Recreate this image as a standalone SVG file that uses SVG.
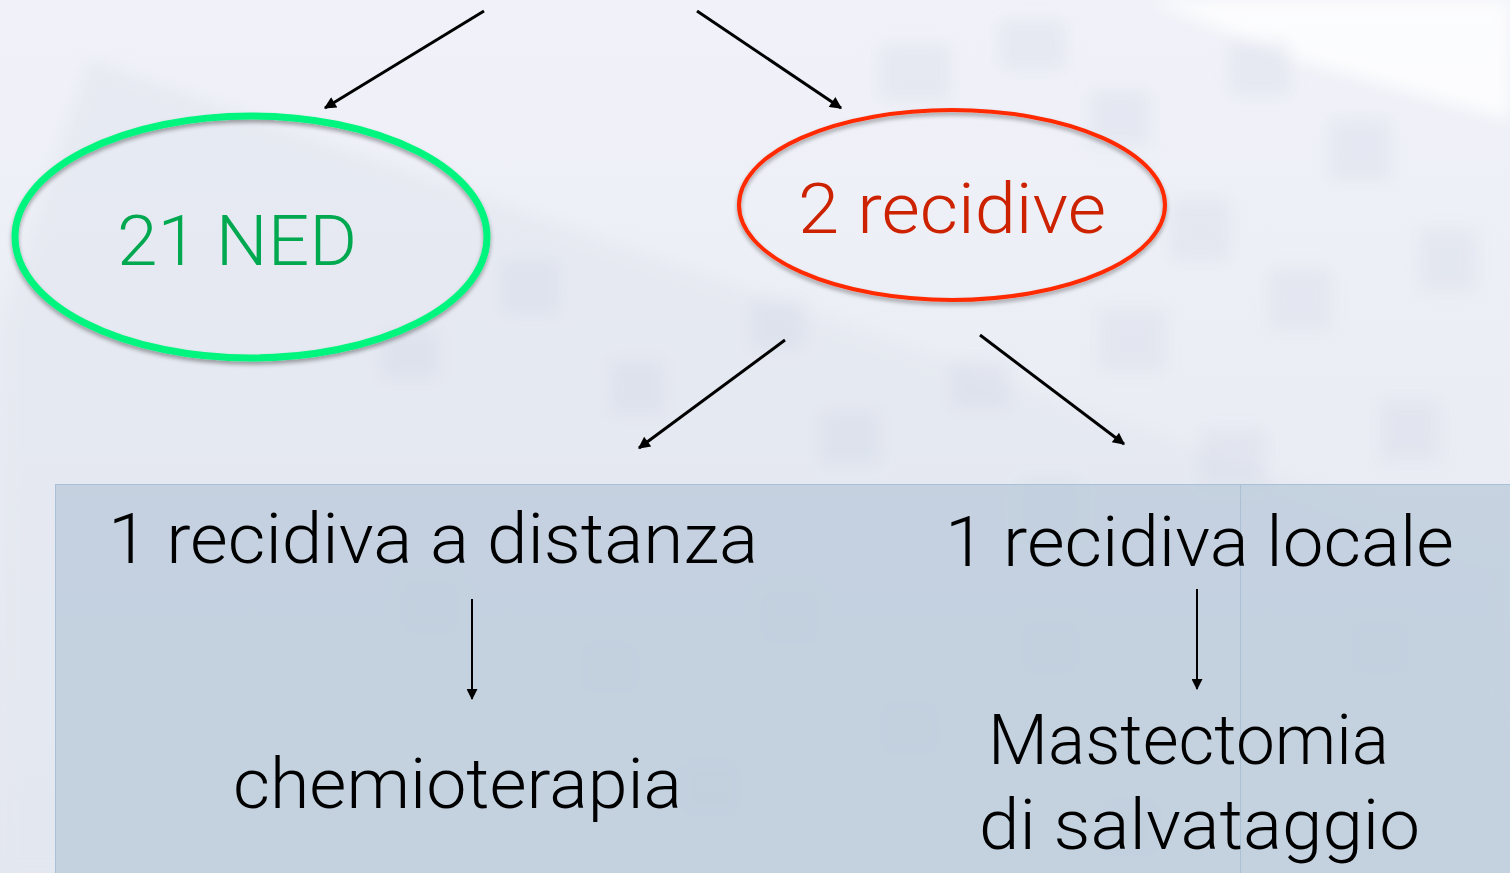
<svg xmlns="http://www.w3.org/2000/svg" width="1510" height="873" viewBox="0 0 1510 873">
<defs>
<style>
.t{font-family:Roboto,"Liberation Sans",Arial,sans-serif;font-weight:300;font-size:70px;}
.blk{fill:#000000;}
.ln{stroke:#000000;fill:none;}
.sq{fill:#c9d0de;opacity:0.25;}
</style>
<marker id="ah" viewBox="0 0 10 10" refX="9" refY="5" markerWidth="5" markerHeight="4" markerUnits="strokeWidth" orient="auto">
<path d="M0,0 L10,5 L0,10 z" fill="#000000"/>
</marker>
<marker id="ah2" viewBox="0 0 10 10" refX="9" refY="5" markerWidth="7" markerHeight="5.5" markerUnits="strokeWidth" orient="auto">
<path d="M0,0 L10,5 L0,10 z" fill="#000000"/>
</marker>
<filter id="blur" x="-20%" y="-20%" width="140%" height="140%"><feGaussianBlur stdDeviation="8"/></filter>
<filter id="sh" x="-10%" y="-10%" width="120%" height="130%"><feDropShadow dx="0" dy="3" stdDeviation="2" flood-color="#000" flood-opacity="0.35"/></filter>
<linearGradient id="bg" x1="0" y1="0" x2="0" y2="1">
<stop offset="0" stop-color="#f1f2f9"/>
<stop offset="1" stop-color="#e4e8f0"/>
</linearGradient>
</defs>
<rect x="0" y="0" width="1510" height="873" fill="url(#bg)"/>
<g id="background" filter="url(#blur)">
<polygon points="90,60 1510,560 1510,873 0,873 0,330" fill="#e3e7ef" opacity="0.7"/>
<polygon points="1150,0 1510,0 1510,120 1300,60" fill="#ffffff" opacity="0.8"/>
<rect class="sq" x="880" y="45" width="70" height="55"/>
<rect class="sq" x="1000" y="20" width="65" height="50"/>
<rect class="sq" x="1090" y="90" width="60" height="55"/>
<rect class="sq" x="1230" y="40" width="60" height="55"/>
<rect class="sq" x="1330" y="120" width="60" height="60"/>
<rect class="sq" x="1170" y="200" width="60" height="60"/>
<rect class="sq" x="1270" y="270" width="60" height="60"/>
<rect class="sq" x="1420" y="230" width="55" height="60"/>
<rect class="sq" x="1100" y="310" width="65" height="60"/>
<rect class="sq" x="1200" y="430" width="65" height="55"/>
<rect class="sq" x="1380" y="400" width="60" height="60"/>
<rect class="sq" x="500" y="260" width="60" height="55"/>
<rect class="sq" x="610" y="360" width="55" height="55"/>
<rect class="sq" x="750" y="300" width="55" height="50"/>
<rect class="sq" x="820" y="410" width="60" height="55"/>
<rect class="sq" x="950" y="360" width="60" height="50"/>
<rect class="sq" x="380" y="330" width="60" height="50"/>
<rect class="sq" x="1020" y="480" width="60" height="55"/>
<rect class="sq" x="400" y="580" width="60" height="55"/>
<rect class="sq" x="580" y="640" width="60" height="55"/>
<rect class="sq" x="760" y="590" width="60" height="55"/>
<rect class="sq" x="880" y="700" width="60" height="55"/>
<rect class="sq" x="680" y="760" width="60" height="55"/>
<rect class="sq" x="1020" y="620" width="60" height="55"/>
<rect class="sq" x="1100" y="800" width="60" height="55"/>
<rect class="sq" x="1350" y="620" width="60" height="55"/>
</g>
<g id="box-bottom">
<rect x="55" y="484" width="1455" height="389" fill="#b9cad9" opacity="0.75"/>
<line x1="55" y1="484.5" x2="1510" y2="484.5" stroke="#a9c0d6" stroke-width="1"/>
<line x1="55.5" y1="484" x2="55.5" y2="873" stroke="#a9c0d6" stroke-width="1"/>
<line x1="1240.5" y1="484" x2="1240.5" y2="873" stroke="#aac0d4" stroke-width="1"/>
</g>
<g id="connectors">
<line class="ln" x1="484" y1="11" x2="325" y2="108" stroke-width="3" marker-end="url(#ah)"/>
<line class="ln" x1="697" y1="11" x2="841" y2="108" stroke-width="3" marker-end="url(#ah)"/>
<line class="ln" x1="785" y1="340" x2="639" y2="448" stroke-width="3" marker-end="url(#ah)"/>
<line class="ln" x1="980" y1="335" x2="1124" y2="444" stroke-width="3" marker-end="url(#ah)"/>
<line class="ln" x1="472" y1="599" x2="472" y2="699" stroke-width="2" marker-end="url(#ah2)"/>
<line class="ln" x1="1197" y1="589" x2="1197" y2="689" stroke-width="2" marker-end="url(#ah2)"/>
</g>
<g id="node-ned">
<ellipse cx="251" cy="237" rx="236" ry="121" fill="none" stroke="#00f57e" stroke-width="7" filter="url(#sh)"/>
<text class="t" x="117" y="265" fill="#00a850" textLength="240" lengthAdjust="spacingAndGlyphs">21 NED</text>
</g>
<g id="node-recidive">
<ellipse cx="952" cy="205" rx="213" ry="95" fill="none" stroke="#ff2a00" stroke-width="4" filter="url(#sh)"/>
<text class="t" x="798" y="233" fill="#cc2200" textLength="308" lengthAdjust="spacingAndGlyphs">2 recidive</text>
</g>
<g id="node-distanza">
<text class="t blk" x="108" y="563" textLength="650" lengthAdjust="spacingAndGlyphs">1 recidiva a distanza</text>
</g>
<g id="node-chemio">
<text class="t blk" x="233" y="808" textLength="449" lengthAdjust="spacingAndGlyphs">chemioterapia</text>
</g>
<g id="node-locale">
<text class="t blk" x="945" y="566" textLength="509" lengthAdjust="spacingAndGlyphs">1 recidiva locale</text>
</g>
<g id="node-mastectomia">
<text class="t blk" x="988" y="764" textLength="401" lengthAdjust="spacingAndGlyphs">Mastectomia</text>
<text class="t blk" x="979" y="849" textLength="441" lengthAdjust="spacingAndGlyphs">di salvataggio</text>
</g>
</svg>
